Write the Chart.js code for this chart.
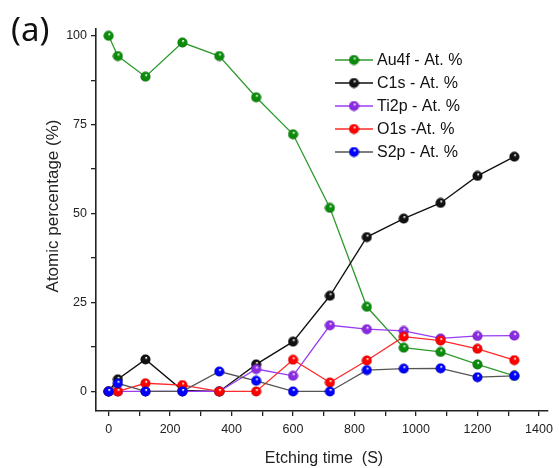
<!DOCTYPE html>
<html>
<head>
<meta charset="utf-8">
<script src="https://cdn.jsdelivr.net/npm/chart.js@4/dist/chart.umd.min.js"></script>
<style>
html,body{margin:0;padding:0;background:#fff;}
#c{display:block;}
</style>
</head>
<body>
<canvas id="c" width="559" height="468"></canvas>
<script>
// ---- data ----
const etchingTime = [0, 30, 120, 240, 360, 480, 600, 720, 840, 960, 1080, 1200, 1320];
const au4f = [100, 94.3, 88.5, 98.1, 94.3, 82.7, 72.3, 51.6, 23.8, 12.3, 11.1, 7.6, 4.4];
const c1s  = [0, 3.4, 9.0, 0.3, 0, 7.6, 14.0, 26.9, 43.4, 48.6, 53.0, 60.6, 66.0];
const ti2p = [0, 0, 0, 0, 0, 6.3, 4.4, 18.6, 17.5, 17.0, 14.9, 15.6, 15.7];
const o1s  = [0, 0, 2.3, 1.8, 0, 0, 8.9, 2.5, 8.7, 15.4, 14.3, 12.0, 8.8];
const s2p  = [0, 2.3, 0, 0, 5.6, 3.0, 0, 0, 6.0, 6.4, 6.5, 4.0, 4.4];
const seriesLabels = ['Au4f - At. %', 'C1s - At. %', 'Ti2p - At. %', 'O1s -At. %', 'S2p - At. %'];
const xTickValues = [0,100,200,300,400,500,600,700,800,900,1000,1100,1200,1300,1400];
const yTickValues = [0,12.5,25,37.5,50,62.5,75,87.5,100];

function ball(color, dark) {
  const cv = document.createElement('canvas');
  cv.width = 11; cv.height = 11;
  const g = cv.getContext('2d');
  const grd = g.createRadialGradient(6.3, 3.6, 0.3, 5.5, 5.5, 5.2);
  grd.addColorStop(0, '#ffffff');
  grd.addColorStop(0.28, color);
  grd.addColorStop(0.8, color);
  grd.addColorStop(1, dark);
  g.fillStyle = grd;
  g.beginPath(); g.arc(5.5, 5.5, 5.0, 0, Math.PI * 2); g.fill();
  return cv;
}

const styles = [
  {line: '#2f9a2f', pt: ball('#0a8c0a', '#045004')},
  {line: '#111111', pt: ball('#111111', '#000000')},
  {line: '#9a3cf5', pt: ball('#8a2be2', '#5a10a0')},
  {line: '#ff2a2a', pt: ball('#ff0000', '#a00000')},
  {line: '#555555', pt: ball('#0000ff', '#00009a')}
];
const seriesValues = [au4f, c1s, ti2p, o1s, s2p];

const datasets = seriesValues.map((vals, i) => ({
  label: seriesLabels[i],
  data: etchingTime.map((t, k) => ({x: t, y: vals[k]})),
  borderColor: styles[i].line,
  backgroundColor: styles[i].line,
  borderWidth: 1.3,
  pointStyle: styles[i].pt,
  pointRadius: 5,
  tension: 0,
  order: 5 - i
}));

const FONT = '"Liberation Sans", Arial, sans-serif';

const decor = {
  id: 'decor',
  afterDraw(chart) {
    const ctx = chart.ctx;
    ctx.save();
    // legend
    ctx.font = '16px ' + FONT;
    ctx.textBaseline = 'middle';
    ctx.textAlign = 'left';
    chart.data.datasets.forEach((ds, i) => {
      const y = 60 + i * 23;
      ctx.strokeStyle = ds.borderColor;
      ctx.lineWidth = 1.3;
      ctx.beginPath(); ctx.moveTo(335, y); ctx.lineTo(373, y); ctx.stroke();
      ctx.drawImage(ds.pointStyle, 354 - 5.5, y - 5.5);
      ctx.fillStyle = '#111';
      ctx.fillText(ds.label, 377, y + 1);
    });
    // axis titles
    ctx.fillStyle = '#222';
    ctx.font = '16px ' + FONT;
    ctx.textAlign = 'center';
    ctx.fillText('Etching time  (S)', 324, 459);
    ctx.save();
    ctx.translate(53, 206);
    ctx.rotate(-Math.PI / 2);
    ctx.font = '17px ' + FONT;
    ctx.fillText('Atomic percentage (%)', 0, 0);
    ctx.restore();
    // panel label
    ctx.fillStyle = '#111';
    ctx.font = '33px "Noto Sans", sans-serif';
    ctx.textAlign = 'left';
    ctx.textBaseline = 'alphabetic';
    ctx.fillText('(a)', 11, 41);
    ctx.restore();
  }
};

new Chart(document.getElementById('c'), {
  type: 'line',
  data: {datasets},
  plugins: [decor],
  options: {
    responsive: false,
    animation: false,
    layout: {padding: {top: 29, right: 7, left: 0, bottom: 0}},
    plugins: {legend: {display: false}, tooltip: {enabled: false}},
    scales: {
      x: {
        type: 'linear',
        min: -41, max: 1428,
        afterBuildTicks: s => { s.ticks = xTickValues.map(v => ({value: v})); },
        afterFit: s => { s.height = 57; },
        ticks: {
          autoSkip: false, maxRotation: 0,
          padding: 6,
          color: '#222',
          font: {family: FONT, size: 12.5},
          callback: v => (v % 200 === 0 ? String(v) : '')
        },
        grid: {drawOnChartArea: false, drawTicks: true, tickLength: 5, color: '#222', lineWidth: 1.3},
        border: {display: true, color: '#222', width: 1.6}
      },
      y: {
        type: 'linear',
        min: -5.5, max: 101.9,
        afterBuildTicks: s => { s.ticks = yTickValues.map(v => ({value: v})); },
        afterFit: s => { s.width = 96; },
        ticks: {
          autoSkip: false,
          padding: 4,
          color: '#222',
          font: {family: FONT, size: 12.5},
          callback: v => (v % 25 === 0 ? String(v) : '')
        },
        grid: {drawOnChartArea: false, drawTicks: true, tickLength: 5, color: '#222', lineWidth: 1.3},
        border: {display: true, color: '#222', width: 1.6}
      }
    }
  }
});
</script>
</body>
</html>
